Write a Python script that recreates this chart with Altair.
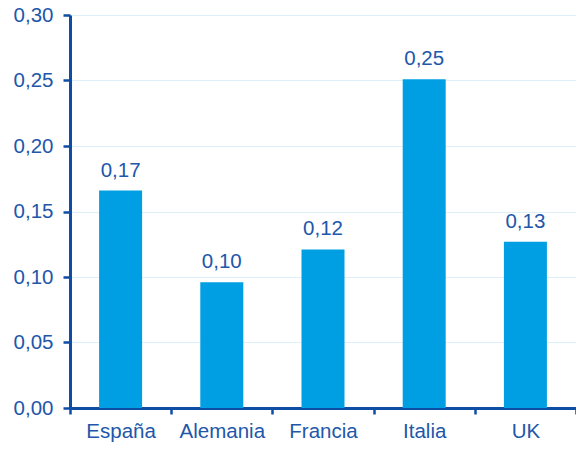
import altair as alt
import pandas as pd

paises = ["España", "Alemania", "Francia", "Italia", "UK"]
valores = [0.166, 0.096, 0.121, 0.251, 0.127]
etiquetas = ["0,17", "0,10", "0,12", "0,25", "0,13"]

df = pd.DataFrame({"pais": paises, "valor": valores, "etiqueta": etiquetas})

TEXT = "#2157AA"
AXIS = "#0E4DA4"
BAR = "#009FE3"
GRID = "#DDF0FA"
FONT = "Liberation Sans"

x = alt.X("pais:N", sort=paises, title=None,
          scale=alt.Scale(paddingInner=0, paddingOuter=0),
          axis=alt.Axis(labelAngle=0, tickBand="extent", domainColor=AXIS, domainWidth=3,
                        tickColor=AXIS, tickWidth=2.5, tickSize=6, labelPadding=7,
                        labelColor=TEXT, labelFontSize=20.5, labelFont=FONT, grid=False))
y = alt.Y("valor:Q", title=None,
          scale=alt.Scale(domain=[0, 0.30], nice=False),
          axis=alt.Axis(values=[0, 0.05, 0.10, 0.15, 0.20, 0.25, 0.30],
                        labelExpr="replace(format(datum.value, '.2f'), '.', ',')",
                        domainColor=AXIS, domainWidth=3, tickColor=AXIS, tickWidth=2.5,
                        tickSize=7, labelPadding=10, labelColor=TEXT, labelFontSize=20.5,
                        labelFont=FONT, grid=True, gridColor=GRID, gridWidth=1.2))

bars = alt.Chart(df).mark_bar(size=43, color=BAR).encode(x=x, y=y)
text = alt.Chart(df).mark_text(dy=-14, baseline="alphabetic", fontSize=20.5, font=FONT,
                               color=TEXT).encode(x=alt.X("pais:N", sort=paises),
                                                  y="valor:Q", text="etiqueta:N")

chart = (bars + text).properties(
    width=506, height=393,
    autosize=alt.AutoSizeParams(type="none"),
    padding={"left": 70, "top": 15, "right": 0, "bottom": 42},
).configure_view(stroke=None)

chart.save("out.html", embed_options={"renderer": "svg", "actions": False})
